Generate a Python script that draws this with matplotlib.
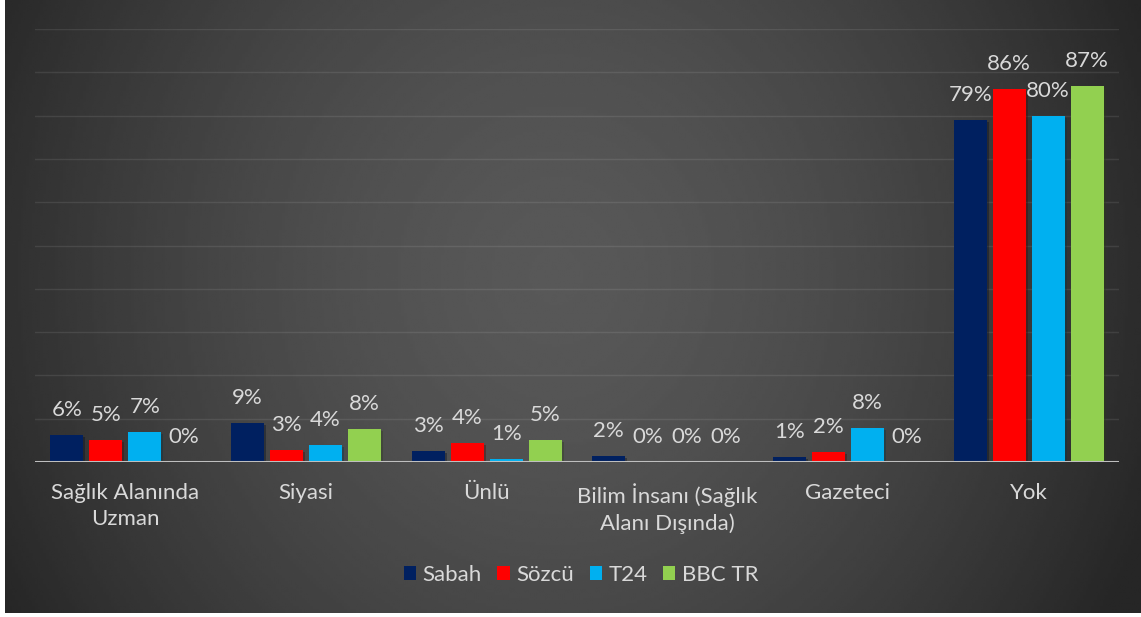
import numpy as np
import matplotlib
matplotlib.use('Agg')
import matplotlib.pyplot as plt
import matplotlib.patheffects as pe
from matplotlib.patches import Patch

plt.rcParams['font.family'] = ['Lato', 'DejaVu Sans']

categories = ['Sağlık Alanında\nUzman', 'Siyasi', 'Ünlü',
              'Bilim İnsanı (Sağlık\nAlanı Dışında)', 'Gazeteci', 'Yok']
series = ['Sabah', 'Sözcü', 'T24', 'BBC TR']
sabah = [0.062, 0.090, 0.026, 0.015, 0.012, 0.790]
sozcu = [0.051, 0.028, 0.043, 0.0, 0.023, 0.861]
t24 = [0.070, 0.039, 0.007, 0.0, 0.078, 0.799]
bbc = [0.0, 0.076, 0.051, 0.0, 0.0, 0.868]
colors = ['#002060', '#FF0000', '#00B0F0', '#92D050']

txt_color = '#d9d9d9'
W, H = 1141, 617
fig = plt.figure(figsize=(W / 100, H / 100), dpi=100, facecolor='white')

# dark radial background
bg = fig.add_axes([5 / W, (H - 613) / H, 1136 / W, 613 / H])
gx, gy = np.meshgrid(np.linspace(-1, 1, 400), np.linspace(-1, 1, 220))
r = np.sqrt((gx + 0.03) ** 2 + (0.5 * (gy + 0.1)) ** 2) / 1.12
shade = (88 - 50 * np.clip(r, 0, 1) ** 1.6) / 255
bg.imshow(shade, cmap='gray', vmin=0, vmax=1, aspect='auto',
          extent=[0, 1, 0, 1], interpolation='bilinear')
bg.set_axis_off()

ax = fig.add_axes([35 / W, (H - 462) / H, 1084 / W, 433 / H])
ax.patch.set_alpha(0)
x = np.arange(len(categories))
step = 0.216
width = 0.183
data = [sabah, sozcu, t24, bbc]
shadow = [pe.SimplePatchShadow(offset=(1.5, -1.5), alpha=0.35), pe.Normal()]
for i, vals in enumerate(data):
    pos = x + (i - 1.5) * step
    bars = ax.bar(pos, vals, width=width, color=colors[i], zorder=3)
    for b in bars:
        b.set_path_effects(shadow)
    for px, v in zip(pos, vals):
        ax.annotate('{:.0%}'.format(v), (px, v), xytext=(0, 18),
                    textcoords='offset points', ha='center', va='center',
                    fontsize=16, color=txt_color, zorder=4)

ax.set_xlim(-0.5, 5.5)
ax.set_ylim(0, 1.0)
ax.set_yticks(np.arange(0.1, 1.01, 0.1))
ax.yaxis.grid(True, color='white', alpha=0.09, lw=1)
ax.set_axisbelow(True)
ax.tick_params(axis='y', left=False, labelleft=False)
ax.axhline(0, color='#bfbfbf', lw=2.2, zorder=5)
ax.set_xticks(x)
ax.set_xticklabels(categories, fontsize=16, color=txt_color, linespacing=1.4)
ax.tick_params(axis='x', length=0, pad=15)
for s in ax.spines.values():
    s.set_visible(False)

handles = [Patch(facecolor=c, label=s) for c, s in zip(colors, series)]
fig.legend(handles=handles, loc='center', bbox_to_anchor=(581 / W, 1 - 575 / H),
           ncol=4, frameon=False, fontsize=16, labelcolor=txt_color,
           handlelength=0.55, handleheight=0.55, handletextpad=0.3,
           columnspacing=0.7)

fig.savefig('out.png', dpi=100, facecolor='white')
